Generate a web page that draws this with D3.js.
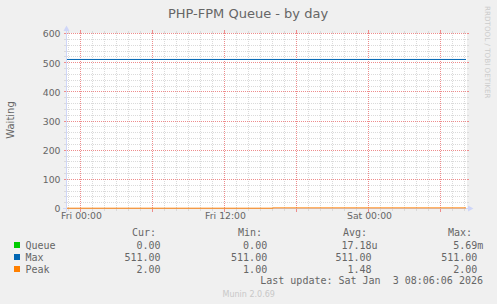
<!DOCTYPE html>
<html><head><meta charset="utf-8">
<script src="https://cdn.jsdelivr.net/npm/d3@7"></script>
<style>
body{margin:0;background:#f0f0f0;}
svg{display:block;}
text{font-family:"DejaVu Sans",sans-serif;}
.mono{font-family:"DejaVu Sans Mono",monospace;font-size:10px;fill:#666;white-space:pre;}
</style>
</head><body><svg id="c" width="497" height="304"></svg>
<script>
const title = "PHP-FPM Queue - by day";
const yLabel = "Waiting";
const times = ["2026-01-01T22:55", "2026-01-02T16:05", "2026-01-03T08:10"];
const queueValues = [0, 0, 0];
const maxValues = [511, 511, 511];
const peakValues = [1, 2, 2];
const seriesNames = ["Queue", "Max", "Peak"];
const seriesColors = ["#00cc00", "#0066b3", "#ff8000"];
const statHeaders = ["Cur:", "Min:", "Avg:", "Max:"];
const curValues = ["0.00", "511.00", "2.00"];
const minValues = ["0.00", "511.00", "1.00"];
const avgValues = ["17.18u", "511.00", "1.48"];
const maxStats = ["5.69m", "511.00", "2.00"];
const yTickValues = [0, 100, 200, 300, 400, 500, 600];
const xTickTimes = ["2026-01-02T00:00", "2026-01-02T12:00", "2026-01-03T00:00"];
const xTickLabels = ["Fri 00:00", "Fri 12:00", "Sat 00:00"];
const domainTimes = ["2026-01-01T22:55", "2026-01-03T08:15"];
const lastUpdate = "Last update: Sat Jan  3 08:06:06 2026";
const version = "Munin 2.0.69";
const watermark = "RRDTOOL / TOBI OETIKER";

const parse = d3.utcParse("%Y-%m-%dT%H:%M");
const svg = d3.select("#c");
const X0 = 67, X1 = 467, YB = 208.5, YT = 33.5;
const x = d3.scaleUtc().domain(domainTimes.map(parse)).range([X0, X1]);
const y = d3.scaleLinear().domain([0, 600]).range([YB, YT]);

svg.append("rect").attr("width", 497).attr("height", 304).attr("fill", "#f0f0f0");
svg.append("rect").attr("x", X0).attr("y", 33).attr("width", X1 - X0).attr("height", 176).attr("fill", "#fff");

const gridCol = "#dadada";
const mgridCol = "#ee8c8c";
const g = svg.append("g");

// minor horizontal grid
const minorY = y.ticks(30).filter(v => v % 100 !== 0);
minorY.forEach(v => {
  const yy = Math.round(y(v) - 0.5) + 0.5;
  g.append("line").attr("x1", X0).attr("x2", X1).attr("y1", yy).attr("y2", yy)
    .attr("stroke", gridCol).attr("stroke-dasharray", "1,1");
  g.append("line").attr("x1", X0 - 3).attr("x2", X0).attr("y1", yy).attr("y2", yy).attr("stroke", gridCol);
  g.append("line").attr("x1", X1).attr("x2", X1 + 2).attr("y1", yy).attr("y2", yy).attr("stroke", gridCol);
});
// minor vertical grid
const minorX = x.ticks(d3.utcHour.every(1)).filter(t => t.getUTCHours() % 6 !== 0);
minorX.forEach(t => {
  const xx = Math.round(x(t)) + 0.5;
  g.append("line").attr("x1", xx).attr("x2", xx).attr("y1", 33).attr("y2", 209)
    .attr("stroke", gridCol).attr("stroke-dasharray", "1,1");
  g.append("line").attr("x1", xx).attr("x2", xx).attr("y1", 209).attr("y2", 211).attr("stroke", gridCol);
  g.append("line").attr("x1", xx).attr("x2", xx).attr("y1", 31).attr("y2", 33).attr("stroke", gridCol);
});
// major horizontal grid
yTickValues.forEach(v => {
  const yy = Math.round(y(v) - 0.5) + 0.5;
  g.append("line").attr("x1", X0).attr("x2", X1).attr("y1", yy).attr("y2", yy)
    .attr("stroke", mgridCol).attr("stroke-dasharray", "1,1");
  g.append("line").attr("x1", X0 - 3).attr("x2", X0).attr("y1", yy).attr("y2", yy).attr("stroke", mgridCol);
  g.append("line").attr("x1", X1).attr("x2", X1 + 2).attr("y1", yy).attr("y2", yy).attr("stroke", mgridCol);
});
// major vertical grid
const majorX = x.ticks(d3.utcHour.every(6));
majorX.forEach(t => {
  const xx = Math.round(x(t)) + 0.5;
  g.append("line").attr("x1", xx).attr("x2", xx).attr("y1", 33).attr("y2", 209)
    .attr("stroke", mgridCol).attr("stroke-dasharray", "1,1");
  g.append("line").attr("x1", xx).attr("x2", xx).attr("y1", 209).attr("y2", 212).attr("stroke", mgridCol);
  g.append("line").attr("x1", xx).attr("x2", xx).attr("y1", 30).attr("y2", 33).attr("stroke", mgridCol);
});

// data lines (Queue and Max first, axis over them, Peak on top)
const allSeries = [queueValues, maxValues, peakValues];
const line = d3.line().x(d => x(d.t)).y(d => y(d.v)).curve(d3.curveStepAfter);
const dataLayer = svg.append("g");
const axisLayer = svg.append("g");
const topLayer = svg.append("g");
allSeries.forEach((vals, i) => {
  const pts = times.map((t, j) => ({t: parse(t), v: vals[j]}));
  (i === 2 ? topLayer : dataLayer).append("path").attr("d", line(pts)).attr("fill", "none")
    .attr("stroke", seriesColors[i]).attr("stroke-width", 1);
});

// axes
const axisCol = "#cfd6f8";
axisLayer.append("line").attr("x1", 63).attr("x2", 469).attr("y1", 208.5).attr("y2", 208.5).attr("stroke", axisCol);
axisLayer.append("line").attr("x1", 66.5).attr("x2", 66.5).attr("y1", 212).attr("y2", 30).attr("stroke", axisCol);
axisLayer.append("path").attr("d", "M468,205.5L473.5,208.5L468,211.5Z").attr("fill", axisCol);
axisLayer.append("path").attr("d", "M63.5,31L66.5,25.5L69.5,31Z").attr("fill", axisCol);

// y tick labels
const yAxis = d3.axisLeft(y).tickValues(yTickValues).tickSize(0).tickPadding(0).tickFormat(d3.format("d"));
const ya = svg.append("g").attr("transform", "translate(60.5,0)").call(yAxis);
ya.select(".domain").remove();
ya.selectAll("text").attr("font-family", "DejaVu Sans").attr("font-size", "9.3px").attr("fill", "#666")
  .attr("dy", "0.36em");

// x tick labels
const xAxis = d3.axisBottom(x).tickValues(xTickTimes.map(parse)).tickSize(0).tickPadding(0)
  .tickFormat((d, i) => xTickLabels[i]);
const xa = svg.append("g").attr("transform", "translate(1,212)").call(xAxis);
xa.select(".domain").remove();
xa.selectAll("text").attr("font-family", "DejaVu Sans").attr("font-size", "9.3px").attr("fill", "#666")
  .attr("dy", "0.71em");

// title
svg.append("text").attr("x", 248).attr("y", 18).attr("text-anchor", "middle")
  .attr("font-size", "13px").attr("fill", "#666").text(title);
// y label
svg.append("text").attr("transform", "translate(13.5,120) rotate(-90)").attr("text-anchor", "middle")
  .attr("font-size", "10px").attr("fill", "#666").text(yLabel);
// watermark
svg.append("text").attr("transform", "translate(485,6) rotate(90)")
  .attr("font-size", "7.2px").attr("fill", "#cccccc").text(watermark);

// legend
const colEnds = [160.6, 267.2, 371.6, 477.3];
const headEnds = [156, 262, 367, 472];
const charW = 6.02;
statHeaders.forEach((h, i) => {
  svg.append("text").attr("class", "mono").attr("x", headEnds[i]).attr("y", 236)
    .attr("text-anchor", "end").text(h);
});
const cols = [curValues, minValues, avgValues, maxStats];
seriesNames.forEach((n, i) => {
  const by = 248.5 + i * 12;
  svg.append("rect").attr("x", 14).attr("y", 242 + i * 12).attr("width", 6).attr("height", 6)
    .attr("fill", seriesColors[i]);
  svg.append("text").attr("class", "mono").attr("x", 25.5).attr("y", by).text(n);
  cols.forEach((c, k) => {
    const s = c[i];
    const hasUnit = /[a-zA-Z]$/.test(s);
    svg.append("text").attr("class", "mono").attr("x", colEnds[k] + (hasUnit ? charW : 0)).attr("y", by)
      .attr("text-anchor", "end").text(s);
  });
});
svg.append("text").attr("class", "mono").attr("x", 483).attr("y", 284).attr("text-anchor", "end").text(lastUpdate);
svg.append("text").attr("x", 248.7).attr("y", 297).attr("text-anchor", "middle")
  .attr("font-size", "8px").attr("fill", "#c8c8c8").text(version);
</script>
</body></html>
